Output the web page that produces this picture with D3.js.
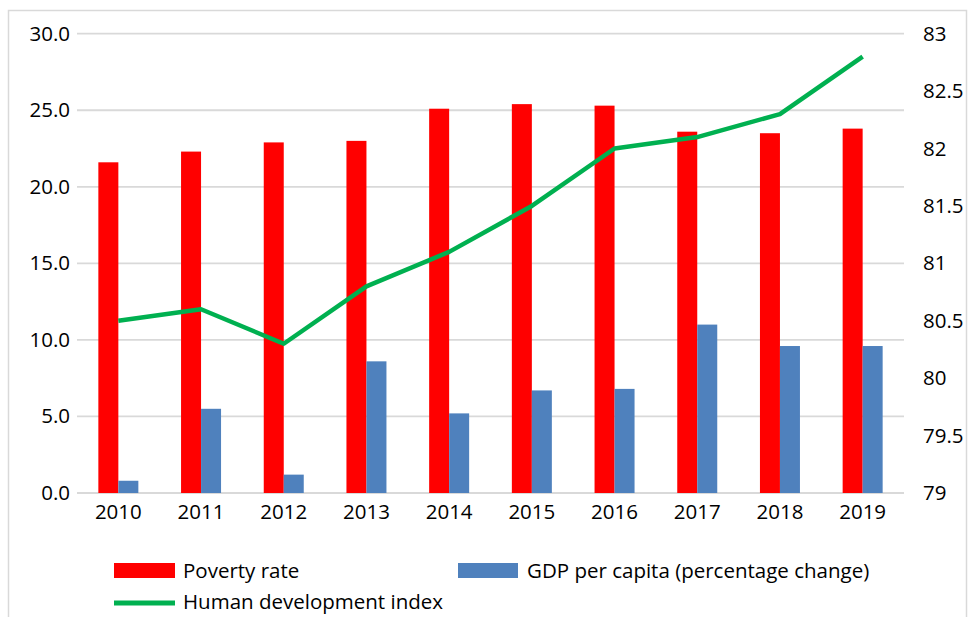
<!DOCTYPE html>
<html lang="en">
<head>
<meta charset="utf-8">
<title>Poverty, GDP and HDI</title>
<script src="https://d3js.org/d3.v7.min.js"></script>
<style>
  body { margin: 0; background: #fff; }
  svg text { font-family: "Open Sans", "Noto Sans", sans-serif; fill: #000; }
</style>
</head>
<body>
<script>
// data
var years = ["2010","2011","2012","2013","2014","2015","2016","2017","2018","2019"];
var povertyRate = [21.6, 22.3, 22.9, 23.0, 25.1, 25.4, 25.3, 23.6, 23.5, 23.8];
var gdpChange = [0.8, 5.5, 1.2, 8.6, 5.2, 6.7, 6.8, 11.0, 9.6, 9.6];
var hdi = [80.5, 80.6, 80.3, 80.8, 81.1, 81.5, 82.0, 82.1, 82.3, 82.8];
var leftTicks = [0, 5, 10, 15, 20, 25, 30];
var rightTicks = [79, 79.5, 80, 80.5, 81, 81.5, 82, 82.5, 83];

var width = 970, height = 617;
var plotLeft = 77, plotRight = 904, plotTop = 33.7, plotBottom = 493;
var fs = 20.5;

var svg = d3.select("body").append("svg")
    .attr("width", width)
    .attr("height", height);

// outer chart border
svg.append("rect")
    .attr("x", 8.5).attr("y", 10.5)
    .attr("width", 958).attr("height", 640)
    .attr("fill", "none")
    .attr("stroke", "#d9d9d9")
    .attr("stroke-width", 1.5);

var x = d3.scaleBand().domain(years).range([plotLeft, plotRight]);
var yL = d3.scaleLinear().domain([0, 30]).range([plotBottom, plotTop]);
var yR = d3.scaleLinear().domain([79, 83]).range([plotBottom, plotTop]);

var barW = 20;

// gridlines
svg.append("g").selectAll("line")
    .data(leftTicks)
    .enter().append("line")
    .attr("x1", plotLeft).attr("x2", plotRight)
    .attr("y1", function(d) { return yL(d); })
    .attr("y2", function(d) { return yL(d); })
    .attr("stroke", "#d9d9d9")
    .attr("stroke-width", 1.8);

// left axis labels
svg.append("g").selectAll("text")
    .data(leftTicks)
    .enter().append("text")
    .attr("x", 70)
    .attr("y", function(d) { return yL(d) + 7; })
    .attr("text-anchor", "end")
    .attr("font-size", fs)
    .text(function(d) { return d3.format(".1f")(d); });

// right axis labels
svg.append("g").selectAll("text")
    .data(rightTicks)
    .enter().append("text")
    .attr("x", 923)
    .attr("y", function(d) { return yR(d) + 7; })
    .attr("text-anchor", "start")
    .attr("font-size", fs)
    .text(function(d) { return d; });

// x labels
svg.append("g").selectAll("text")
    .data(years)
    .enter().append("text")
    .attr("x", function(d) { return x(d) + x.bandwidth() / 2; })
    .attr("y", 519)
    .attr("text-anchor", "middle")
    .attr("font-size", fs)
    .text(function(d) { return d; });

// poverty bars
svg.append("g").selectAll("rect")
    .data(povertyRate)
    .enter().append("rect")
    .attr("x", function(d, i) { return x(years[i]) + x.bandwidth() / 2 - barW; })
    .attr("y", function(d) { return yL(d); })
    .attr("width", barW)
    .attr("height", function(d) { return yL(0) - yL(d); })
    .attr("fill", "#ff0000");

// gdp bars
svg.append("g").selectAll("rect")
    .data(gdpChange)
    .enter().append("rect")
    .attr("x", function(d, i) { return x(years[i]) + x.bandwidth() / 2; })
    .attr("y", function(d) { return yL(d); })
    .attr("width", barW)
    .attr("height", function(d) { return yL(0) - yL(d); })
    .attr("fill", "#4f81bd");

// hdi line
var line = d3.line()
    .x(function(d, i) { return x(years[i]) + x.bandwidth() / 2; })
    .y(function(d) { return yR(d); });

svg.append("path")
    .datum(hdi)
    .attr("d", line)
    .attr("fill", "none")
    .attr("stroke", "#00b050")
    .attr("stroke-width", 4.5)
    .attr("stroke-linejoin", "round");

// legend
var lg = svg.append("g");
lg.append("rect").attr("x", 114).attr("y", 563).attr("width", 61).attr("height", 15).attr("fill", "#ff0000");
lg.append("text").attr("x", 183).attr("y", 578).attr("font-size", fs).text("Poverty rate");
lg.append("rect").attr("x", 458).attr("y", 563).attr("width", 60).attr("height", 15).attr("fill", "#4f81bd");
lg.append("text").attr("x", 527).attr("y", 578).attr("font-size", fs).text("GDP per capita (percentage change)");
lg.append("line").attr("x1", 114).attr("x2", 175).attr("y1", 603).attr("y2", 603)
    .attr("stroke", "#00b050").attr("stroke-width", 5);
lg.append("text").attr("x", 183).attr("y", 609).attr("font-size", fs).text("Human development index");
</script>
</body>
</html>
